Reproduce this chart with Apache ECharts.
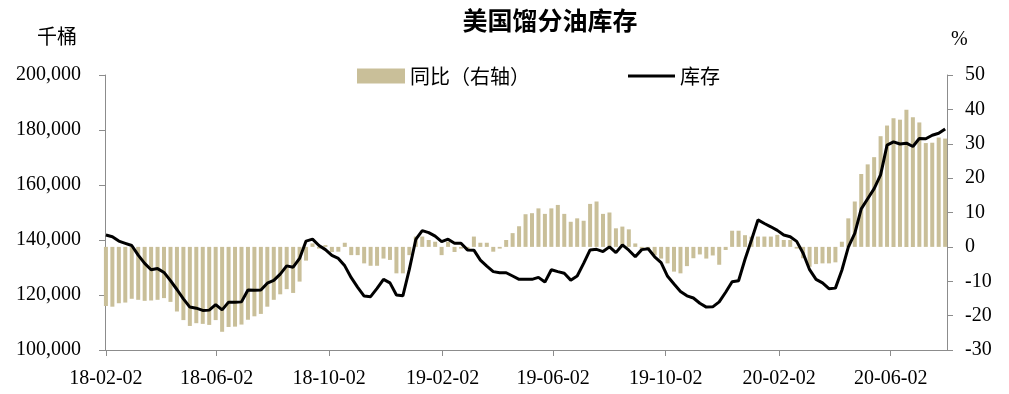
<!DOCTYPE html>
<html><head><meta charset="utf-8">
<script src="https://cdn.jsdelivr.net/npm/echarts@6/dist/echarts.min.js"></script>
<style>html,body{margin:0;padding:0;background:#fff}#c{width:1009px;height:394px}</style>
</head><body><div id="c"></div>
<script>
// Weekly dates (Fridays)
const dates = [
'2018-02-02','2018-02-09','2018-02-16','2018-02-23','2018-03-02','2018-03-09','2018-03-16','2018-03-23','2018-03-30',
'2018-04-06','2018-04-13','2018-04-20','2018-04-27','2018-05-04','2018-05-11','2018-05-18','2018-05-25',
'2018-06-01','2018-06-08','2018-06-15','2018-06-22','2018-06-29','2018-07-06','2018-07-13','2018-07-20','2018-07-27',
'2018-08-03','2018-08-10','2018-08-17','2018-08-24','2018-08-31','2018-09-07','2018-09-14','2018-09-21','2018-09-28',
'2018-10-05','2018-10-12','2018-10-19','2018-10-26','2018-11-02','2018-11-09','2018-11-16','2018-11-23','2018-11-30',
'2018-12-07','2018-12-14','2018-12-21','2018-12-28',
'2019-01-04','2019-01-11','2019-01-18','2019-01-25','2019-02-01','2019-02-08','2019-02-15','2019-02-22',
'2019-03-01','2019-03-08','2019-03-15','2019-03-22','2019-03-29','2019-04-05','2019-04-12','2019-04-19','2019-04-26',
'2019-05-03','2019-05-10','2019-05-17','2019-05-24','2019-05-31','2019-06-07','2019-06-14','2019-06-21','2019-06-28',
'2019-07-05','2019-07-12','2019-07-19','2019-07-26','2019-08-02','2019-08-09','2019-08-16','2019-08-23','2019-08-30',
'2019-09-06','2019-09-13','2019-09-20','2019-09-27','2019-10-04','2019-10-11','2019-10-18','2019-10-25',
'2019-11-01','2019-11-08','2019-11-15','2019-11-22','2019-11-29','2019-12-06','2019-12-13','2019-12-20','2019-12-27',
'2020-01-03','2020-01-10','2020-01-17','2020-01-24','2020-01-31','2020-02-07','2020-02-14','2020-02-21','2020-02-28',
'2020-03-06','2020-03-13','2020-03-20','2020-03-27','2020-04-03','2020-04-10','2020-04-17','2020-04-24',
'2020-05-01','2020-05-08','2020-05-15','2020-05-22','2020-05-29','2020-06-05','2020-06-12','2020-06-19','2020-06-26',
'2020-07-03','2020-07-10','2020-07-17','2020-07-24','2020-07-31'
];
// 库存 (千桶)
const stock = [
141800,141200,139600,138800,138000,134500,131500,129200,129600,128200,
125200,122000,118600,115600,115200,114400,114500,116500,114600,117400,
117400,117500,121800,121700,121800,124300,125300,127600,130600,130100,
133300,139600,140300,138000,136500,134400,133300,130600,126300,122800,
119600,119400,122400,125700,124400,120000,119700,129300,140200,143400,
142700,141400,139400,140300,138800,138800,136400,136300,132700,130500,
128500,128100,128100,126900,125700,125700,125700,126400,124700,129200,
128500,127900,125400,126900,131500,136400,136600,135800,137500,135400,
138200,136300,133900,136500,136800,133900,131800,126800,124000,121300,
119700,118900,117000,115600,115700,117500,121000,124800,125200,133000,
140000,147300,146000,144800,143500,141800,141200,139500,135200,129200,
125700,124400,122300,122500,129000,137400,142400,151300,155000,158700,
163700,174500,175700,174900,175200,174000,176900,176800,178100,178800,
180400
];
// 同比 (%)
const yoy = [
-17.2,-17.4,-16.4,-16.2,-15.1,-15.4,-15.7,-15.6,-15.4,-14.9,
-16.0,-18.8,-21.3,-23.0,-22.2,-22.4,-22.7,-21.3,-24.7,-23.3,
-23.2,-22.6,-21.2,-20.2,-19.5,-17.4,-15.4,-13.8,-12.3,-13.4,
-10.1,-4.0,1.0,-0.5,0.5,-1.5,-1.4,1.2,-2.4,-2.4,
-4.8,-5.5,-5.5,-3.4,-3.8,-7.7,-7.7,-2.4,3.0,3.0,
2.0,1.5,-2.4,1.5,-1.5,-0.5,-1.0,3.0,1.2,1.2,
-1.4,-0.5,2.0,4.0,6.0,9.5,9.8,11.2,9.6,11.2,
12.2,9.6,7.3,8.3,7.6,12.5,13.2,9.6,10.0,5.4,
5.9,5.1,1.0,-0.5,-0.9,-2.4,-3.4,-4.8,-7.2,-7.7,
-5.6,-3.3,-2.2,-3.4,-2.5,-5.2,-0.9,4.7,4.7,3.4,
3.0,3.0,3.0,3.0,3.5,2.0,2.0,-0.5,-3.3,-5.8,
-5.0,-4.8,-4.8,-4.5,1.5,8.3,13.2,21.2,24.0,26.1,
32.2,35.3,37.4,37.0,39.9,37.7,36.2,30.2,30.3,31.8,
31.5
];
const xTicks = ['2018-02-02','2018-06-02','2018-10-02','2019-02-02','2019-06-02','2019-10-02','2020-02-02','2020-06-02'];
const xRange = ['2018-02-01','2020-08-02'];
const leftTicks = {min:100000, max:200000, interval:20000};
const rightTicks = {min:-30, max:50, interval:10};

// date string -> UTC day number (timezone independent)
const dayNum = s => { const p = s.split('-').map(Number); return Date.UTC(p[0], p[1] - 1, p[2]) / 86400000; };
const pad = n => (n < 10 ? '0' : '') + n;
const fmtDay = v => { const d = new Date(Math.round(v) * 86400000); return pad(d.getUTCFullYear() % 100) + '-' + pad(d.getUTCMonth() + 1) + '-' + pad(d.getUTCDate()); };

const serif = 'Liberation Serif';
const cjk = 'Noto Sans CJK SC';
const axisGray = '#8c8c8c';
const barColor = '#c9bf99';

const chart = echarts.init(document.getElementById('c'), null, {renderer: 'canvas'});
chart.setOption({
  animation: false,
  backgroundColor: '#fff',
  title: {
    text: '美国馏分油库存', left: 545, top: 3, textAlign: 'center',
    textStyle: {fontFamily: cjk, fontSize: 25, fontWeight: 'bold', color: '#000'}
  },
  legend: [
    {data: [{name: '同比（右轴）', icon: 'rect'}], left: 357, top: 66, padding: 0, itemWidth: 48, itemHeight: 15, itemGap: 5,
     textStyle: {fontFamily: cjk, fontSize: 20, color: '#000'}},
    {data: [{name: '库存', icon: 'rect'}], left: 628, top: 66, padding: 0, itemWidth: 47, itemHeight: 3,
     textStyle: {fontFamily: cjk, fontSize: 20, color: '#000'}}
  ],
  graphic: [
    {type: 'text', left: 37, top: 26, style: {text: '千桶', font: '20px "' + cjk + '"', fill: '#000'}},
    {type: 'text', left: 951, top: 30, style: {text: '%', font: '20px "' + serif + '"', fill: '#000'}}
  ],
  grid: {left: 105, right: 62, top: 75, bottom: 44, containLabel: false},
  xAxis: {
    type: 'value', min: dayNum(xRange[0]), max: dayNum(xRange[1]),
    axisLine: {show: true, onZero: false, lineStyle: {color: axisGray, width: 1}},
    axisTick: {show: true, length: 6, customValues: xTicks.map(dayNum), lineStyle: {color: axisGray}},
    axisLabel: {customValues: xTicks.map(dayNum), formatter: fmtDay, margin: 19,
      fontFamily: serif, fontSize: 20, color: '#000'},
    splitLine: {show: false}
  },
  yAxis: [
    {type: 'value', min: leftTicks.min, max: leftTicks.max, interval: leftTicks.interval, position: 'left',
     axisLine: {show: true, lineStyle: {color: axisGray}},
     axisTick: {show: true, length: 6, lineStyle: {color: axisGray}},
     axisLabel: {margin: 24, fontFamily: serif, fontSize: 20, color: '#000', formatter: v => v.toLocaleString('en-US')},
     splitLine: {show: false}},
    {type: 'value', min: rightTicks.min, max: rightTicks.max, interval: rightTicks.interval, position: 'right',
     axisLine: {show: true, lineStyle: {color: axisGray}},
     axisTick: {show: true, length: 6, lineStyle: {color: axisGray}},
     axisLabel: {margin: 18, fontFamily: serif, fontSize: 20, color: '#000'},
     splitLine: {show: false}}
  ],
  series: [
    {name: '同比（右轴）', type: 'bar', yAxisIndex: 1, barWidth: 4, clip: false,
     itemStyle: {color: barColor},
     data: dates.map((d, i) => [dayNum(d), yoy[i]])},
    {name: '库存', type: 'line', yAxisIndex: 0, symbol: 'none', showSymbol: false,
     lineStyle: {color: '#000', width: 3}, itemStyle: {color: '#000'},
     data: dates.map((d, i) => [dayNum(d), stock[i]])}
  ]
});
</script>
</body></html>
